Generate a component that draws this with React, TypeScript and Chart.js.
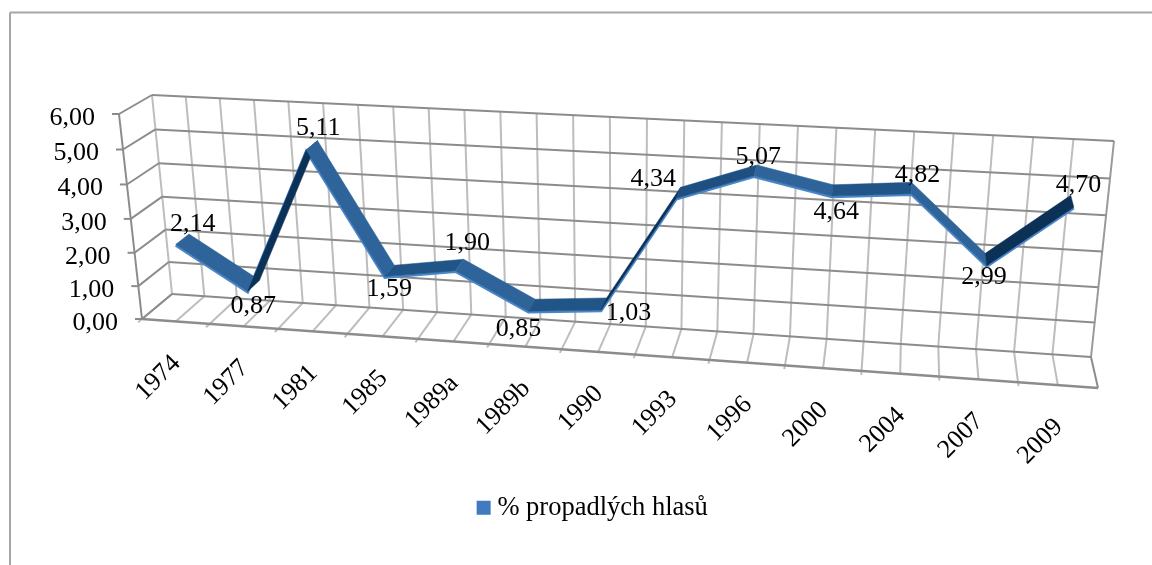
import React, { useEffect, useRef } from "react";
import { Chart, registerables } from "chart.js";

Chart.register(...registerables);

const categories = ["1974", "1977", "1981", "1985", "1989a", "1989b", "1990", "1993", "1996", "2000", "2004", "2007", "2009"];
const lostVotes = [2.14, 0.87, 5.11, 1.59, 1.9, 0.85, 1.03, 4.34, 5.07, 4.64, 4.82, 2.99, 4.7];
const yTicks = [0, 1, 2, 3, 4, 5, 6];
const seriesName = "% propadlých hlasů";
const labelNudgeX = [11, 0, 7, 0, 8, -13, 25, -25, 3, 4, 6, -2, 6];
const labelNudgeY = [-16, 20, -18, 18, -22, 23, 9, -14, -14, 21, -13, 17, -17];

const FONT_SIZE = 26;
const FONT = `${FONT_SIZE}px "Liberation Serif"`;
type Pt = [number, number];

function homography(p0: Pt, p1: Pt, p2: Pt, p3: Pt) {
  const dx1 = p1[0] - p2[0], dx2 = p3[0] - p2[0], sx = p0[0] - p1[0] + p2[0] - p3[0];
  const dy1 = p1[1] - p2[1], dy2 = p3[1] - p2[1], sy = p0[1] - p1[1] + p2[1] - p3[1];
  const den = dx1 * dy2 - dx2 * dy1;
  const g = (sx * dy2 - dx2 * sy) / den, h = (dx1 * sy - sx * dy1) / den;
  const a = p1[0] - p0[0] + g * p1[0], b = p3[0] - p0[0] + h * p3[0], c = p0[0];
  const d = p1[1] - p0[1] + g * p1[1], e = p3[1] - p0[1] + h * p3[1], f = p0[1];
  return (u: number, v: number): Pt => {
    const w = g * u + h * v + 1;
    return [(a * u + b * v + c) / w, (d * u + e * v + f) / w];
  };
}

// Wall planes of the 3-D box: corners are bottom-left, bottom-right, top-right, top-left.
const backWall = homography([172, 294], [1091, 357], [1114, 141], [152, 95]);
const frontWall = homography([142, 319], [1098, 388], [1123, 166], [119, 114]);
const RIBBON_BACK = 0.3;
const RIBBON_FRONT = 0.75;

function norm(chart: any, x: number, y: number): Pt {
  const a = chart.chartArea;
  return [(x - a.left) / (a.right - a.left), (a.bottom - y) / (a.bottom - a.top)];
}
function project(chart: any, xVal: number, yVal: number, depth: number): Pt {
  const [u, v] = norm(chart, chart.scales.x.getPixelForValue(xVal), chart.scales.y.getPixelForValue(yVal));
  const b = backWall(u, v), f = frontWall(u, v);
  return [b[0] + (f[0] - b[0]) * depth, b[1] + (f[1] - b[1]) * depth];
}
function seg(ctx: CanvasRenderingContext2D, a: Pt, b: Pt, color: string, w = 2) {
  ctx.strokeStyle = color;
  ctx.lineWidth = w;
  ctx.beginPath();
  ctx.moveTo(a[0], a[1]);
  ctx.lineTo(b[0], b[1]);
  ctx.stroke();
}
function shade(delta: number) {
  if (delta >= 1) return "#0C3157";
  if (delta >= 0.35) return "#1E4F80";
  if (delta > -0.35) return "#215588";
  return "#2E6499";
}

const DARK = "#8C8C8C";
const LIGHT = "#BDBDBD";

const box3d = {
  id: "box3d",
  afterDatasetsUpdate(chart: any) {
    const meta = chart.getDatasetMeta(0);
    meta.data.forEach((el: any, i: number) => {
      const p = project(chart, i, lostVotes[i], RIBBON_FRONT);
      el.x = p[0];
      el.y = p[1] + 1;
    });
  },
  beforeDatasetsDraw(chart: any) {
    const ctx: CanvasRenderingContext2D = chart.ctx;
    ctx.save();
    // outer frame
    seg(ctx, [10, 12.5], [1152, 12.5], "#A6A6A6", 2);
    seg(ctx, [10, 12.5], [10, 565], "#A6A6A6", 2);
    const top = chart.scales.y.max;
    const steps = categories.length * 2;
    for (let k = 0; k <= steps; k++) {
      const xv = k / 2 - 0.5;
      seg(ctx, project(chart, xv, 0, 0), project(chart, xv, top, 0), k === steps ? "#9A9A9A" : LIGHT);
      const tick = k % 2 === 0 ? 1.13 : 1;
      if (k < steps) seg(ctx, project(chart, xv, 0, 0), project(chart, xv, 0, tick), LIGHT);
    }
    seg(ctx, project(chart, steps / 2 - 0.5, 0, 0), project(chart, steps / 2 - 0.5, 0, 1), DARK);
    const xs = chart.scales.x;
    for (const t of yTicks) {
      const left = -0.5, right = categories.length - 0.5;
      seg(ctx, project(chart, left, t, 0), project(chart, right, t, 0), DARK);
      seg(ctx, project(chart, left, t, 0), project(chart, left, t, 1), DARK);
      const f = project(chart, left, t, 1);
      seg(ctx, [f[0] - 7, f[1]], f, DARK);
    }
    seg(ctx, project(chart, -0.5, 0, 1), project(chart, -0.5, top, 1), DARK);
    seg(ctx, project(chart, -0.5, 0, 1), project(chart, categories.length - 0.5, 0, 1), DARK, 2.4);
    // tick labels follow the front edge of the box
    ctx.fillStyle = "#000";
    ctx.font = FONT;
    ctx.textAlign = "right";
    ctx.textBaseline = "middle";
    for (const t of yTicks) {
      const f = project(chart, -0.5, t, 1);
      ctx.fillText(t.toFixed(2).replace(".", ","), f[0] - 24, f[1] + 4);
    }
    xs.getLabels().forEach((label: string, i: number) => {
      const f = project(chart, i, 0, 1);
      ctx.save();
      ctx.translate(f[0] + 1, f[1] + 38);
      ctx.rotate(-Math.PI / 4);
      ctx.fillText(label, 0, 0);
      ctx.restore();
    });
    ctx.restore();
  },
  afterDatasetsDraw(chart: any) {
    const ctx: CanvasRenderingContext2D = chart.ctx;
    ctx.save();
    for (let i = 0; i < lostVotes.length - 1; i++) {
      const a = project(chart, i, lostVotes[i], RIBBON_FRONT);
      const b = project(chart, i + 1, lostVotes[i + 1], RIBBON_FRONT);
      const c = project(chart, i + 1, lostVotes[i + 1], RIBBON_BACK);
      const d = project(chart, i, lostVotes[i], RIBBON_BACK);
      ctx.fillStyle = shade(lostVotes[i + 1] - lostVotes[i]);
      ctx.strokeStyle = ctx.fillStyle;
      ctx.lineWidth = 0.5;
      ctx.beginPath();
      ctx.moveTo(a[0], a[1]);
      ctx.lineTo(b[0], b[1]);
      ctx.lineTo(c[0], c[1]);
      ctx.lineTo(d[0], d[1]);
      ctx.closePath();
      ctx.fill();
      ctx.stroke();
    }
    ctx.fillStyle = "#000";
    ctx.font = FONT;
    ctx.textAlign = "center";
    ctx.textBaseline = "middle";
    lostVotes.forEach((v, i) => {
      const p = project(chart, i, v, 0.545);
      ctx.fillText(v.toFixed(2).replace(".", ","), p[0] + labelNudgeX[i], p[1] + labelNudgeY[i]);
    });
    ctx.restore();
  },
};

export default function App() {
  const ref = useRef<HTMLCanvasElement | null>(null);
  useEffect(() => {
    const chart = new Chart(ref.current as HTMLCanvasElement, {
      type: "line",
      plugins: [box3d],
      data: {
        labels: categories,
        datasets: [
          {
            label: seriesName,
            data: lostVotes,
            borderColor: "#4A86C8",
            backgroundColor: "#3F7BBE",
            borderWidth: 2.6,
            pointRadius: 0,
            tension: 0,
            clip: false,
          } as any,
        ],
      },
      options: {
        animation: false,
        responsive: false,
        layout: { padding: { left: 142, right: 103, top: 115, bottom: 34 } },
        scales: {
          x: { type: "category", offset: true, display: true, grid: { display: false }, border: { display: false }, ticks: { display: false } },
          y: {
            type: "linear", min: 0, max: 6, display: true,
            grid: { display: false }, border: { display: false },
            ticks: { display: false, stepSize: 1 },
          },
        },
        plugins: {
          tooltip: { enabled: false },
          legend: {
            display: true,
            position: "bottom",
            labels: {
              boxWidth: 1,
              boxHeight: 1,
              padding: 0,
              color: "#000",
              font: { family: '"Liberation Serif"', size: 26.5 },
              generateLabels: () => [
                {
                  text: seriesName,
                  fillStyle: "#3F7BBE",
                  strokeStyle: "#3F7BBE",
                  lineWidth: 13,
                  lineJoin: "miter",
                  fontColor: "#000",
                  datasetIndex: 0,
                } as any,
              ],
            },
          },
        },
      },
    });
    return () => chart.destroy();
  }, []);
  return (
    <div style={{ position: "absolute", left: 0, top: 0, width: 1152, height: 565, background: "#fff" }}>
      <canvas ref={ref} width={1152} height={565} style={{ display: "block" }} />
    </div>
  );
}
